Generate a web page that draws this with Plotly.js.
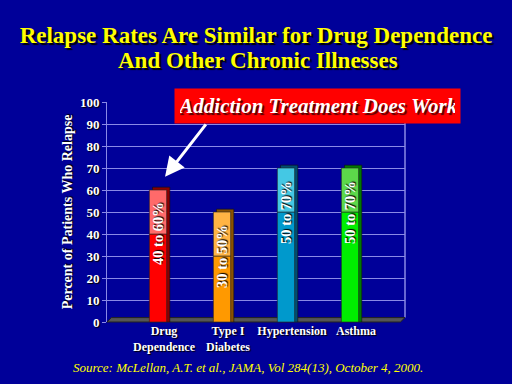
<!DOCTYPE html>
<html>
<head>
<meta charset="utf-8">
<script src="https://cdn.plot.ly/plotly-3.0.1.min.js"></script>
<style>html,body{margin:0;padding:0;background:#000099;}#chart{width:512px;height:384px;}</style>
</head>
<body>
<div id="chart"></div>
<script>
// Data
const categories = ['Drug<br>Dependence', 'Type I<br>Diabetes', 'Hypertension', 'Asthma'];
const lowValues = [40, 30, 50, 50];
const highValues = [60, 50, 70, 70];
const barLabels = ['40 to 60%', '30 to 50%', '50 to 70%', '50 to 70%'];
const yTickValues = [0, 10, 20, 30, 40, 50, 60, 70, 80, 90, 100];
const titleLine1 = 'Relapse Rates Are Similar for Drug Dependence';
const titleLine2 = 'And Other Chronic Illnesses';

// Styles
const lowerColors = ['#ff0000', '#ff9900', '#0099cc', '#00ee00'];
const upperColors = ['#ff6a6a', '#ffb444', '#44c8e4', '#5cd84a'];
const sideColors = ['#8a0000', '#8a5200', '#004f70', '#007a00'];
const serif = 'Liberation Serif, Times New Roman, serif';
const barWidth = 0.27;
const titleFont = {family: serif, size: 23, color: '#ffff00', weight: 'bold', shadow: '2px 2px 1px #000000'};

const upperSizes = highValues.map((h, i) => h - lowValues[i]);
const sideSizes = highValues.map(h => h + 1.3);

const traces = [
  {type: 'bar', x: categories, y: sideSizes, base: 0, width: barWidth, offset: -barWidth / 2 + 0.05,
   marker: {color: sideColors, line: {color: '#111111', width: 0.6}}, hoverinfo: 'skip'},
  {type: 'bar', x: categories, y: lowValues, base: 0, width: barWidth,
   marker: {color: lowerColors, line: {color: '#222222', width: 0.6}}},
  {type: 'bar', x: categories, y: upperSizes, base: lowValues, width: barWidth,
   marker: {color: upperColors, line: {color: '#222222', width: 0.6}}}
];

const annotations = barLabels.map((t, i) => ({
  x: categories[i], y: lowValues[i], xref: 'x', yref: 'y', text: t, showarrow: false,
  textangle: -90, font: {family: serif, size: 14.5, color: '#ffffff', weight: 'bold', shadow: '1px 1px 1px #000000'}
}));

annotations.push({
  xref: 'paper', yref: 'paper', x: 0.708, y: 0.983, xanchor: 'center', yanchor: 'middle',
  text: '<b><i>Addiction Treatment Does Work</i></b>', showarrow: false,
  font: {family: serif, size: 21, color: '#ffffff', shadow: '2px 2px 1px #550000'},
  bgcolor: '#ff0000', borderpad: 5, width: 275, height: 24
});
annotations.push({
  xref: 'x', yref: 'y', x: 0.11, y: 66, text: '', showarrow: true,
  ax: 42, ay: -54, arrowcolor: '#ffffff', arrowwidth: 3, arrowhead: 2, arrowsize: 1.3
});
annotations.push({
  xref: 'paper', yref: 'paper', x: 0.473, y: -0.205, xanchor: 'center', yanchor: 'middle', showarrow: false,
  text: '<i>Source: McLellan, A.T. et al., JAMA, Vol 284(13), October 4, 2000.</i>',
  font: {family: serif, size: 13, color: '#ffff00'}
});
annotations.push({
  xref: 'paper', yref: 'paper', x: 0.507, y: (322 - 60) / 220, xanchor: 'center', yanchor: 'middle', showarrow: false,
  text: titleLine2, font: titleFont
});

const layout = {
  width: 512, height: 384,
  paper_bgcolor: '#000099', plot_bgcolor: '#000099',
  margin: {l: 107, r: 107, t: 102, b: 62},
  barmode: 'overlay', showlegend: false,
  title: {
    text: titleLine1,
    x: 0.5, xanchor: 'center', y: 1 - 35 / 384, yanchor: 'middle', yref: 'container',
    font: titleFont
  },
  xaxis: {
    type: 'category', range: [-0.797, 3.86], showgrid: false, zeroline: false, showline: false,
    ticks: '', ticklabelshift: 6, ticklabelstandoff: 0,
    tickfont: {family: serif, size: 12, color: '#ffffff', weight: 'bold', shadow: '1px 1px 1px #000000'}
  },
  yaxis: {
    range: [0, 100], tickvals: yTickValues, showgrid: true, gridcolor: '#8a8ae6', gridwidth: 1,
    zeroline: false, showline: true, linecolor: '#8a8ae6', ticks: 'outside', ticklen: 4, tickcolor: '#8a8ae6',
    tickfont: {family: serif, size: 13, color: '#ffffff', weight: 'bold', shadow: '1px 1px 1px #000000'},
    title: {text: 'Percent of Patients Who Relapse', standoff: 4,
      font: {family: serif, size: 14, color: '#ffffff', weight: 'bold', shadow: '1px 1px 1px #000000'}}
  },
  shapes: [
    {type: 'line', xref: 'paper', yref: 'paper', x0: 1, x1: 1, y0: 0.02, y1: 1.0, line: {color: '#8a8ae6', width: 1.5}, layer: 'below'},
    {type: 'path', xref: 'paper', yref: 'paper', path: 'M 0 0 L 0.015 0.02 L 1 0.02 L 0.985 0 Z',
     fillcolor: '#555555', line: {color: '#222222', width: 1}, layer: 'below'}
  ],
  annotations: annotations
};

Plotly.newPlot('chart', traces, layout, {displayModeBar: false, staticPlot: true});
</script>
</body>
</html>
